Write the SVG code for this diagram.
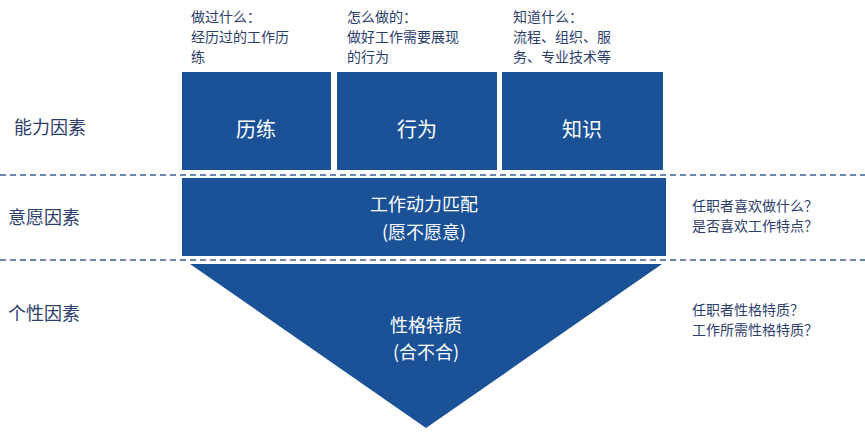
<svg xmlns="http://www.w3.org/2000/svg" width="865" height="432" viewBox="0 0 865 432">
<style>
.b{fill:#1b5297}
.w{fill:#fff;font-family:"Noto Sans CJK SC",sans-serif;text-anchor:middle}
.t{fill:#2c3e6b;font-family:"Noto Sans CJK SC",sans-serif;font-size:14px}
.l{fill:#2c3e6b;font-family:"Noto Sans CJK SC",sans-serif;font-size:18px}
.d{stroke:#3a5f95;stroke-width:1.5;stroke-dasharray:6 4;fill:none}
</style>
<rect width="865" height="432" fill="#fff"/>
<g id="connectors">
<line class="d" x1="0" y1="175" x2="865" y2="175"/>
<line class="d" x1="0" y1="260" x2="865" y2="260"/>
</g>
<g id="n1"><rect class="b" x="182" y="72" width="149" height="98"/><text class="w" x="256" y="137" font-size="20">历练</text>
<text class="t" x="191" y="22">做过什么：</text><text class="t" x="191" y="42">经历过的工作历</text><text class="t" x="191" y="62">练</text></g>
<g id="n2"><rect class="b" x="337" y="72" width="160" height="98"/><text class="w" x="417" y="137" font-size="20">行为</text>
<text class="t" x="347" y="22">怎么做的：</text><text class="t" x="347" y="42">做好工作需要展现</text><text class="t" x="347" y="62">的行为</text></g>
<g id="n3"><rect class="b" x="502" y="72" width="161" height="98"/><text class="w" x="582" y="137" font-size="20">知识</text>
<text class="t" x="513" y="22">知道什么：</text><text class="t" x="513" y="42">流程、组织、服</text><text class="t" x="513" y="62">务、专业技术等</text></g>
<g id="n4"><rect class="b" x="182" y="178" width="484" height="78"/><text class="w" x="424" y="211" font-size="18">工作动力匹配</text><text class="w" x="424" y="239" font-size="18">(愿不愿意)</text></g>
<g id="n5"><polygon class="b" points="190,264 662,264 426,428"/><text class="w" x="426" y="332" font-size="18">性格特质</text><text class="w" x="426" y="359" font-size="18">(合不合)</text></g>
<g id="labels">
<text class="l" x="14" y="134">能力因素</text>
<text class="l" x="8" y="224">意愿因素</text>
<text class="l" x="8" y="320">个性因素</text>
<text class="t" x="692" y="211">任职者喜欢做什么？</text>
<text class="t" x="692" y="231">是否喜欢工作特点？</text>
<text class="t" x="692" y="315">任职者性格特质？</text>
<text class="t" x="692" y="335">工作所需性格特质？</text>
</g>
</svg>
